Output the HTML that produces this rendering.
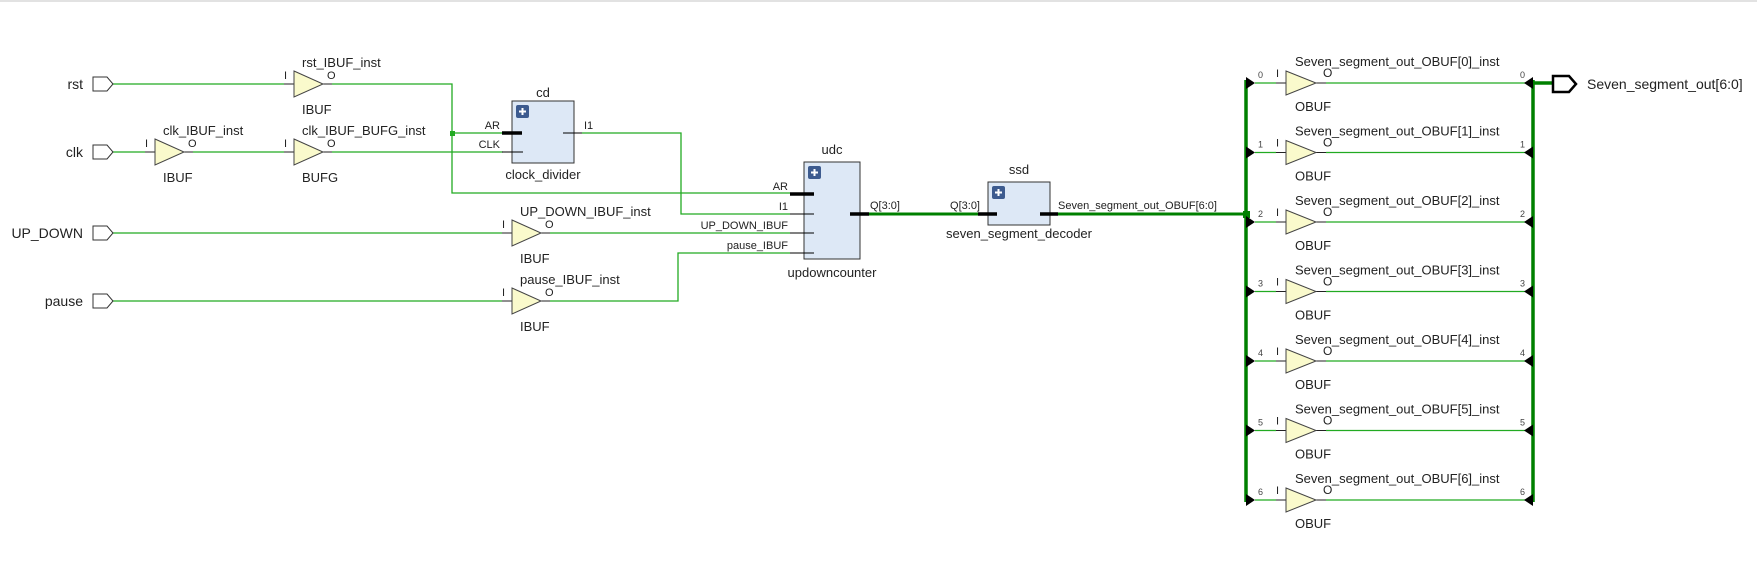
<!DOCTYPE html>
<html><head><meta charset="utf-8"><style>
html,body{margin:0;padding:0;background:#fff;}
svg{display:block;font-family:"Liberation Sans","DejaVu Sans",sans-serif;}
</style></head><body>
<svg width="1757" height="582" viewBox="0 0 1757 582" xmlns="http://www.w3.org/2000/svg">
<rect x="0" y="0" width="1757" height="2" fill="#e2e2e2"/>
<defs>
<g id="plus"><rect width="13" height="13" rx="2" fill="#3d5b8f"/><path d="M6.5 3v7M3 6.5h7" stroke="#fff" stroke-width="2"/></g>
</defs>
<g fill="none" stroke="#22aa22" stroke-width="1.3">
<!-- rst -->
<path d="M113 84H284M332 84H452V193H790"/>
<path d="M452 133H503"/>
<!-- clk -->
<path d="M113 152H145M193 152H284M332 152H503"/>
<!-- I1 -->
<path d="M582 133H681V214H790"/>
<!-- UP_DOWN -->
<path d="M113 233H502M550 233H790"/>
<!-- pause -->
<path d="M113 301H502M550 301H678V253H790"/>
</g>
<rect x="450" y="131" width="5" height="5" fill="#22aa22"/>
<!-- ports -->
<g fill="#fff" stroke="#333" stroke-width="1">
<path d="M93 77H107L113 84L107 91H93Z"/>
<path d="M93 145H107L113 152L107 159H93Z"/>
<path d="M93 226H107L113 233L107 240H93Z"/>
<path d="M93 294H107L113 301L107 308H93Z"/>
</g>
<g font-size="14" fill="#222" text-anchor="end">
<text x="83" y="89">rst</text><text x="83" y="157">clk</text>
<text x="83" y="238">UP_DOWN</text><text x="83" y="306">pause</text>
</g>
<!-- input buffers -->
<g stroke="#222" stroke-width="1">
<path d="M284 84H294M323 84H332M145 152H155M184 152H193M284 152H294M323 152H332M502 233H512M541 233H550M502 301H512M541 301H550"/>
</g>
<g fill="#fafacc" stroke="#444" stroke-width="1">
<path d="M294 71L323 84L294 97Z"/><path d="M155 139L184 152L155 165Z"/>
<path d="M294 139L323 152L294 165Z"/><path d="M512 220L541 233L512 246Z"/>
<path d="M512 288L541 301L512 314Z"/>
</g>
<g font-size="13" fill="#222">
<text x="302" y="67">rst_IBUF_inst</text><text x="302" y="114">IBUF</text>
<text x="163" y="135">clk_IBUF_inst</text><text x="163" y="182">IBUF</text>
<text x="302" y="135">clk_IBUF_BUFG_inst</text><text x="302" y="182">BUFG</text>
<text x="520" y="216">UP_DOWN_IBUF_inst</text><text x="520" y="263">IBUF</text>
<text x="520" y="284">pause_IBUF_inst</text><text x="520" y="331">IBUF</text>
</g>
<g font-size="11" fill="#222">
<text x="284" y="79">I</text><text x="327" y="79">O</text>
<text x="145" y="147">I</text><text x="188" y="147">O</text>
<text x="284" y="147">I</text><text x="327" y="147">O</text>
<text x="502" y="228">I</text><text x="545" y="228">O</text>
<text x="502" y="296">I</text><text x="545" y="296">O</text>
</g>
<!-- cd -->
<rect x="512" y="101" width="62" height="62" fill="#dde8f6" stroke="#333"/>
<use href="#plus" x="516" y="105"/>
<path d="M502 133H522" stroke="#000" stroke-width="3.5"/>
<path d="M502 152H523M563 133H582" stroke="#000" stroke-width="1"/>
<g font-size="11" fill="#222"><text x="500" y="129" text-anchor="end">AR</text><text x="500" y="148" text-anchor="end">CLK</text><text x="584" y="129">I1</text></g>
<g font-size="13" fill="#222" text-anchor="middle"><text x="543" y="97">cd</text><text x="543" y="179">clock_divider</text></g>
<!-- udc -->
<rect x="804" y="162" width="56" height="97" fill="#dde8f6" stroke="#333"/>
<use href="#plus" x="808" y="166"/>
<path d="M790 194H814M850 214H869" stroke="#000" stroke-width="3.5"/>
<path d="M790 214H814M790 233H814M790 253H814" stroke="#000" stroke-width="1"/>
<g font-size="11" fill="#222" text-anchor="end">
<text x="788" y="190">AR</text><text x="788" y="210">I1</text><text x="788" y="229">UP_DOWN_IBUF</text><text x="788" y="249">pause_IBUF</text>
</g>
<text x="870" y="209" font-size="11" fill="#222">Q[3:0]</text>
<g font-size="13" fill="#222" text-anchor="middle"><text x="832" y="154">udc</text><text x="832" y="277">updowncounter</text></g>
<!-- ssd -->
<path d="M869 214H978M1058 214H1246" stroke="#008000" stroke-width="3"/>
<rect x="988" y="182" width="62" height="43" fill="#dde8f6" stroke="#333"/>
<use href="#plus" x="992" y="186"/>
<path d="M978 214H997M1040 214H1058" stroke="#000" stroke-width="3.5"/>
<text x="980" y="209" font-size="11" fill="#222" text-anchor="end">Q[3:0]</text>
<text x="1058" y="209" font-size="11" fill="#222">Seven_segment_out_OBUF[6:0]</text>
<g font-size="13" fill="#222" text-anchor="middle"><text x="1019" y="174">ssd</text><text x="1019" y="238">seven_segment_decoder</text></g>
<rect x="1243" y="211" width="7" height="7" fill="#008000"/>
<!-- buses -->
<path d="M1246 80V502M1533 80V502M1533 83H1553" stroke="#008000" stroke-width="3.5" fill="none"/>
<path d="M1553 76H1569L1576 84L1569 92H1553Z" fill="#fff" stroke="#000" stroke-width="2.5"/>
<text x="1587" y="89" font-size="14" fill="#222">Seven_segment_out[6:0]</text>
<g id="rows">
<g transform="translate(0,83)">
<path d="M1255 0H1276M1326 0H1527" stroke="#22aa22" stroke-width="1.3"/>
<path d="M1276 0H1286M1316 0H1326" stroke="#222"/>
<path d="M1286 -12L1316 0L1286 12Z" fill="#fafacc" stroke="#444"/>
<path d="M1246 -6L1255 0L1246 6Z M1533 -6L1524 0L1533 6Z" fill="#000"/>
<text x="1258" y="-5" font-size="9" fill="#444">0</text><text x="1520" y="-5" font-size="9" fill="#444">0</text>
<text x="1276" y="-6" font-size="11" fill="#222">I</text><text x="1323" y="-6" font-size="12" fill="#222">O</text>
<text x="1295" y="-17" font-size="13" fill="#222">Seven_segment_out_OBUF[0]_inst</text>
<text x="1295" y="28" font-size="13" fill="#222">OBUF</text>
</g>
<g transform="translate(0,152.5)">
<path d="M1255 0H1276M1326 0H1527" stroke="#22aa22" stroke-width="1.3"/>
<path d="M1276 0H1286M1316 0H1326" stroke="#222"/>
<path d="M1286 -12L1316 0L1286 12Z" fill="#fafacc" stroke="#444"/>
<path d="M1246 -6L1255 0L1246 6Z M1533 -6L1524 0L1533 6Z" fill="#000"/>
<text x="1258" y="-5" font-size="9" fill="#444">1</text><text x="1520" y="-5" font-size="9" fill="#444">1</text>
<text x="1276" y="-6" font-size="11" fill="#222">I</text><text x="1323" y="-6" font-size="12" fill="#222">O</text>
<text x="1295" y="-17" font-size="13" fill="#222">Seven_segment_out_OBUF[1]_inst</text>
<text x="1295" y="28" font-size="13" fill="#222">OBUF</text>
</g>
<g transform="translate(0,222)">
<path d="M1255 0H1276M1326 0H1527" stroke="#22aa22" stroke-width="1.3"/>
<path d="M1276 0H1286M1316 0H1326" stroke="#222"/>
<path d="M1286 -12L1316 0L1286 12Z" fill="#fafacc" stroke="#444"/>
<path d="M1246 -6L1255 0L1246 6Z M1533 -6L1524 0L1533 6Z" fill="#000"/>
<text x="1258" y="-5" font-size="9" fill="#444">2</text><text x="1520" y="-5" font-size="9" fill="#444">2</text>
<text x="1276" y="-6" font-size="11" fill="#222">I</text><text x="1323" y="-6" font-size="12" fill="#222">O</text>
<text x="1295" y="-17" font-size="13" fill="#222">Seven_segment_out_OBUF[2]_inst</text>
<text x="1295" y="28" font-size="13" fill="#222">OBUF</text>
</g>
<g transform="translate(0,291.5)">
<path d="M1255 0H1276M1326 0H1527" stroke="#22aa22" stroke-width="1.3"/>
<path d="M1276 0H1286M1316 0H1326" stroke="#222"/>
<path d="M1286 -12L1316 0L1286 12Z" fill="#fafacc" stroke="#444"/>
<path d="M1246 -6L1255 0L1246 6Z M1533 -6L1524 0L1533 6Z" fill="#000"/>
<text x="1258" y="-5" font-size="9" fill="#444">3</text><text x="1520" y="-5" font-size="9" fill="#444">3</text>
<text x="1276" y="-6" font-size="11" fill="#222">I</text><text x="1323" y="-6" font-size="12" fill="#222">O</text>
<text x="1295" y="-17" font-size="13" fill="#222">Seven_segment_out_OBUF[3]_inst</text>
<text x="1295" y="28" font-size="13" fill="#222">OBUF</text>
</g>
<g transform="translate(0,361)">
<path d="M1255 0H1276M1326 0H1527" stroke="#22aa22" stroke-width="1.3"/>
<path d="M1276 0H1286M1316 0H1326" stroke="#222"/>
<path d="M1286 -12L1316 0L1286 12Z" fill="#fafacc" stroke="#444"/>
<path d="M1246 -6L1255 0L1246 6Z M1533 -6L1524 0L1533 6Z" fill="#000"/>
<text x="1258" y="-5" font-size="9" fill="#444">4</text><text x="1520" y="-5" font-size="9" fill="#444">4</text>
<text x="1276" y="-6" font-size="11" fill="#222">I</text><text x="1323" y="-6" font-size="12" fill="#222">O</text>
<text x="1295" y="-17" font-size="13" fill="#222">Seven_segment_out_OBUF[4]_inst</text>
<text x="1295" y="28" font-size="13" fill="#222">OBUF</text>
</g>
<g transform="translate(0,430.5)">
<path d="M1255 0H1276M1326 0H1527" stroke="#22aa22" stroke-width="1.3"/>
<path d="M1276 0H1286M1316 0H1326" stroke="#222"/>
<path d="M1286 -12L1316 0L1286 12Z" fill="#fafacc" stroke="#444"/>
<path d="M1246 -6L1255 0L1246 6Z M1533 -6L1524 0L1533 6Z" fill="#000"/>
<text x="1258" y="-5" font-size="9" fill="#444">5</text><text x="1520" y="-5" font-size="9" fill="#444">5</text>
<text x="1276" y="-6" font-size="11" fill="#222">I</text><text x="1323" y="-6" font-size="12" fill="#222">O</text>
<text x="1295" y="-17" font-size="13" fill="#222">Seven_segment_out_OBUF[5]_inst</text>
<text x="1295" y="28" font-size="13" fill="#222">OBUF</text>
</g>
<g transform="translate(0,500)">
<path d="M1255 0H1276M1326 0H1527" stroke="#22aa22" stroke-width="1.3"/>
<path d="M1276 0H1286M1316 0H1326" stroke="#222"/>
<path d="M1286 -12L1316 0L1286 12Z" fill="#fafacc" stroke="#444"/>
<path d="M1246 -6L1255 0L1246 6Z M1533 -6L1524 0L1533 6Z" fill="#000"/>
<text x="1258" y="-5" font-size="9" fill="#444">6</text><text x="1520" y="-5" font-size="9" fill="#444">6</text>
<text x="1276" y="-6" font-size="11" fill="#222">I</text><text x="1323" y="-6" font-size="12" fill="#222">O</text>
<text x="1295" y="-17" font-size="13" fill="#222">Seven_segment_out_OBUF[6]_inst</text>
<text x="1295" y="28" font-size="13" fill="#222">OBUF</text>
</g>
</g>
</svg>
</body></html>
